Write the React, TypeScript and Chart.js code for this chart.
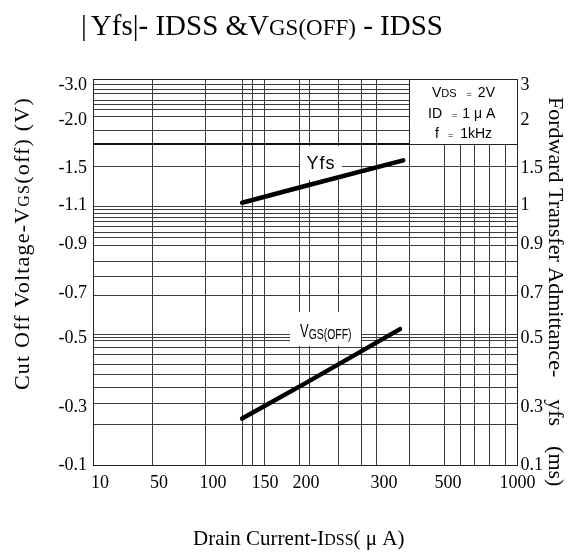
import React, { useEffect, useRef } from 'react';
import { Chart, registerables, LinearScale } from 'chart.js';

Chart.register(...registerables);

// ---------------- data ----------------
const IDSS_YFS = [128, 200, 360]; // Drain current IDSS (µA) for |Yfs| curve
const YFS_MS = [1.03, 1.26, 1.58]; // |Yfs| (mS)
const IDSS_VGS = [128, 200, 350]; // Drain current IDSS (µA) for VGS(off) curve
const VGS_OFF_V = [-0.26, -0.37, -0.54]; // VGS(off) (V)

const X_TICKS = [10, 50, 100, 150, 200, 300, 500, 1000];
const Y_LEFT_TICKS = [-0.1, -0.3, -0.5, -0.7, -0.9, -1.1, -1.5, -2.0, -3.0];
const Y_RIGHT_TICKS = [0.1, 0.3, 0.5, 0.7, 0.9, 1, 1.5, 2, 3];

// ---------------- layout (fractions of the plot area) ----------------
const X_TICK_POS = [0.0165, 0.1555, 0.2827, 0.4052, 0.5018, 0.6855, 0.8363, 1.0];
const Y_TICK_POS = [0, 0.1503, 0.329, 0.4443, 0.5712, 0.6736, 0.7694, 0.8925, 0.9832];
const GRID_X = [0.1383, 0.2638, 0.3517, 0.3753, 0.4028, 0.4853, 0.51, 0.5783, 0.6313, 0.6678, 0.7451, 0.8257, 0.8634, 0.8987, 0.934, 0.9694];
const GRID_Y = [0.9863, 0.9733, 0.963, 0.9456, 0.9352, 0.9215, 0.9041, 0.8679, 0.7746, 0.6718, 0.6632, 0.6536, 0.6433, 0.6329, 0.6199, 0.6044, 0.5915, 0.5699, 0.5285, 0.4896, 0.4404, 0.3394, 0.3316, 0.3238, 0.3057, 0.2876, 0.2617, 0.2358, 0.2021, 0.1606, 0.1062];
const GRID_Y_BOLD = 0.8308;

const SERIF = "'Liberation Serif', 'Times New Roman', serif";
const SANS = "'Liberation Sans', Arial, sans-serif";
const fnt = (size: number, fam: string = SERIF) => `${size}px ${fam}`;

function interp(v: number, from: number[], to: number[]) {
  const n = from.length;
  const inc = from[n - 1] > from[0];
  let i = 0;
  while (i < n - 2 && (inc ? v > from[i + 1] : v < from[i + 1])) i++;
  const a = from[i];
  const b = from[i + 1];
  return to[i] + ((v - a) / (b - a)) * (to[i + 1] - to[i]);
}

function makeScale(scaleId: string, values: number[], pos: number[]) {
  class PiecewiseScale extends (LinearScale as any) {
    static id = scaleId;
    static defaults = {};
    determineDataLimits() {
      const a = interp(0, pos, values);
      const b = interp(1, pos, values);
      (this as any).min = Math.min(a, b);
      (this as any).max = Math.max(a, b);
    }
    buildTicks() {
      return values.map((v) => ({ value: v }));
    }
    getPixelForValue(v: number) {
      return (this as any).getPixelForDecimal(interp(v, values, pos));
    }
    getValueForPixel(p: number) {
      return interp((this as any).getDecimalForPixel(p), pos, values);
    }
  }
  return PiecewiseScale;
}

Chart.register(
  makeScale('pwx', X_TICKS, X_TICK_POS) as any,
  makeScale('pwyl', Y_LEFT_TICKS, Y_TICK_POS) as any,
  makeScale('pwyr', Y_RIGHT_TICKS, Y_TICK_POS) as any
);

type Seg = { t: string; f: string; gap?: number; dy?: number };

function segsWidth(ctx: CanvasRenderingContext2D, segs: Seg[]) {
  let w = 0;
  for (const s of segs) {
    ctx.font = s.f;
    w += (s.gap || 0) + ctx.measureText(s.t).width;
  }
  return w;
}

function drawSegs(ctx: CanvasRenderingContext2D, segs: Seg[], x: number, y: number, align: 'left' | 'center' = 'left') {
  let cx = align === 'center' ? x - segsWidth(ctx, segs) / 2 : x;
  ctx.textAlign = 'left';
  ctx.textBaseline = 'alphabetic';
  for (const s of segs) {
    ctx.font = s.f;
    cx += s.gap || 0;
    ctx.fillText(s.t, cx, y + (s.dy || 0));
    cx += ctx.measureText(s.t).width;
  }
}

const decorPlugin = {
  id: 'decor',
  beforeDatasetsDraw(chart: any) {
    const { ctx, chartArea: a } = chart;
    const W = a.right - a.left;
    const H = a.bottom - a.top;
    ctx.save();
    ctx.strokeStyle = '#3c3c3c';
    ctx.lineWidth = 1;
    ctx.beginPath();
    for (const fx of GRID_X) {
      const x = Math.round(a.left + fx * W) + 0.5;
      ctx.moveTo(x, a.top);
      ctx.lineTo(x, a.bottom);
    }
    for (const fy of GRID_Y) {
      const y = Math.round(a.bottom - fy * H) + 0.5;
      ctx.moveTo(a.left, y);
      ctx.lineTo(a.right, y);
    }
    ctx.stroke();

    const yb = Math.round(a.bottom - GRID_Y_BOLD * H);
    ctx.strokeStyle = '#111';
    ctx.lineWidth = 2;
    ctx.beginPath();
    ctx.moveTo(a.left, yb);
    ctx.lineTo(a.right, yb);
    ctx.stroke();

    // condition box
    const bx = Math.round(a.left + 0.7451 * W) + 0.5;
    ctx.fillStyle = '#fff';
    ctx.fillRect(bx, a.top, a.right - bx, yb - a.top);
    ctx.strokeStyle = '#222';
    ctx.lineWidth = 1;
    ctx.strokeRect(bx, a.top + 0.5, a.right - bx, yb - a.top);

    // label backgrounds
    ctx.fillStyle = '#fff';
    ctx.fillRect(a.left + 207, a.top + 67, 42, 34);
    ctx.fillRect(a.left + 197, a.top + 233, 71, 34);

    // plot frame
    ctx.strokeStyle = '#222';
    ctx.lineWidth = 1;
    ctx.strokeRect(Math.round(a.left) + 0.5, Math.round(a.top) + 0.5, Math.round(W) - 1, Math.round(H));
    ctx.restore();
  },
  afterDraw(chart: any) {
    const { ctx } = chart;
    ctx.save();
    ctx.fillStyle = '#000';

    // title
    drawSegs(
      ctx,
      [
        { t: '|', f: fnt(29) },
        { t: 'Yfs', f: fnt(29), gap: 4 },
        { t: '|', f: fnt(29) },
        { t: '- IDSS &V', f: fnt(29) },
        { t: 'GS(OFF)', f: fnt(23) },
        { t: ' - IDSS', f: fnt(29) },
      ],
      81,
      35
    );

    // x-axis title
    drawSegs(
      ctx,
      [
        { t: 'Drain Current-I', f: fnt(21) },
        { t: 'DSS', f: fnt(16) },
        { t: '( \u03bc A)', f: fnt(21) },
      ],
      193,
      545
    );

    // left axis title
    ctx.save();
    ctx.translate(29, 390);
    ctx.rotate(-Math.PI / 2);
    (ctx as any).letterSpacing = '1.2px';
    drawSegs(
      ctx,
      [
        { t: 'Cut Off Voltage-V', f: fnt(22) },
        { t: 'GS', f: fnt(16) },
        { t: '(off) (V)', f: fnt(22) },
      ],
      0,
      0
    );
    ctx.restore();

    // right axis title
    ctx.save();
    ctx.translate(549, 97);
    ctx.rotate(Math.PI / 2);
    drawSegs(
      ctx,
      [
        { t: 'Fordward Transfer Admittance-', f: fnt(22) },
        { t: 'yfs', f: fnt(22), gap: 22 },
        { t: '(ms)', f: fnt(22), gap: 20 },
      ],
      0,
      0
    );
    ctx.restore();

    // condition box texts
    const s14 = fnt(14, SANS);
    const s11 = fnt(11, SANS);
    const s9 = fnt(9, SANS);
    drawSegs(ctx, [{ t: 'V', f: s14 }, { t: 'DS', f: s11 }, { t: '=', f: s9, gap: 10 }, { t: '2V', f: s14, gap: 6 }], 432, 97);
    drawSegs(ctx, [{ t: 'ID', f: s14 }, { t: '=', f: s9, gap: 10 }, { t: '1 \u03bc A', f: s14, gap: 5 }], 428, 118);
    drawSegs(ctx, [{ t: 'f', f: s14 }, { t: '=', f: s9, gap: 9 }, { t: '1kHz', f: s14, gap: 7 }], 435, 138);

    // curve labels
    ctx.save();
    (ctx as any).letterSpacing = '1px';
    drawSegs(ctx, [{ t: 'Yfs', f: fnt(18, SANS) }], 321, 168.5, 'center');
    ctx.restore();

    ctx.save();
    ctx.translate(300, 0);
    ctx.scale(0.72, 1);
    drawSegs(ctx, [{ t: 'V', f: fnt(18, SANS) }, { t: 'GS(OFF)', f: fnt(14.5, SANS), dy: 1.5 }], 0, 337);
    ctx.restore();

    ctx.restore();
  },
};

export default function App() {
  const ref = useRef<HTMLCanvasElement | null>(null);
  useEffect(() => {
    if (!ref.current) return;
    const tickFont = { family: SERIF, size: 18 };
    const chart = new Chart(ref.current, {
      type: 'line',
      data: {
        datasets: [
          {
            label: 'Yfs',
            data: IDSS_YFS.map((x, i) => ({ x, y: YFS_MS[i] })),
            yAxisID: 'y1',
            borderColor: '#000',
            borderWidth: 4.5,
            borderCapStyle: 'round',
            pointRadius: 0,
            tension: 0,
          },
          {
            label: 'VGS(OFF)',
            data: IDSS_VGS.map((x, i) => ({ x, y: VGS_OFF_V[i] })),
            yAxisID: 'y',
            borderColor: '#000',
            borderWidth: 4.5,
            borderCapStyle: 'round',
            pointRadius: 0,
            tension: 0,
          },
        ],
      },
      options: {
        responsive: false,
        animation: false,
        layout: { padding: { top: 79, left: 0, right: 0, bottom: 0 } },
        plugins: { legend: { display: false }, tooltip: { enabled: false }, title: { display: false } },
        scales: {
          x: {
            type: 'pwx' as any,
            position: 'bottom',
            grid: { display: false, drawTicks: false },
            border: { display: false },
            ticks: { autoSkip: false, maxRotation: 0, font: tickFont, color: '#000', padding: 7, callback: (v: any) => String(v) },
            afterFit: (s: any) => {
              s.height = 88;
            },
          } as any,
          y: {
            type: 'pwyl' as any,
            position: 'left',
            grid: { display: false, drawTicks: false },
            border: { display: false },
            ticks: { autoSkip: false, font: tickFont, color: '#000', padding: 6, callback: (v: any) => Number(v).toFixed(1) },
            afterFit: (s: any) => {
              s.width = 93;
            },
          } as any,
          y1: {
            type: 'pwyr' as any,
            position: 'right',
            grid: { display: false, drawTicks: false },
            border: { display: false },
            ticks: { autoSkip: false, font: tickFont, color: '#000', padding: 3, callback: (v: any) => String(v) },
            afterFit: (s: any) => {
              s.width = 61.5;
            },
          } as any,
        },
      },
      plugins: [decorPlugin],
    } as any);
    return () => chart.destroy();
  }, []);

  return (
    <div style={{ position: 'fixed', left: 0, top: 0, width: 579, height: 553, background: '#fff' }}>
      <canvas ref={ref} width={579} height={553} style={{ display: 'block' }} />
    </div>
  );
}
